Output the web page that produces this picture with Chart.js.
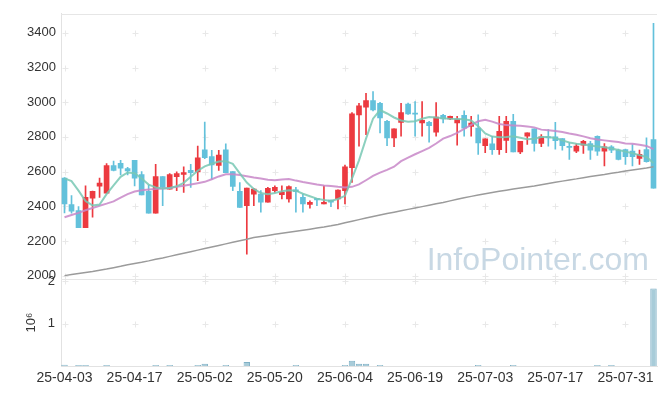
<!DOCTYPE html>
<html lang="ko">
<head>
<meta charset="UTF-8">
<title>Candlestick chart</title>
<script src="https://cdn.jsdelivr.net/npm/chart.js"></script>
<style>
    html, body { margin: 0; padding: 0; background: #fff; }
    #chart { display: block; }
</style>
</head>
<body>
<canvas id="chart" width="665" height="396"></canvas>
<script>
// trading days
const dates = [
    '25-04-03','25-04-04','25-04-07','25-04-08','25-04-09','25-04-10','25-04-11','25-04-14','25-04-15','25-04-16',
    '25-04-17','25-04-18','25-04-21','25-04-22','25-04-23','25-04-24','25-04-25','25-04-28','25-04-29','25-04-30',
    '25-05-02','25-05-07','25-05-08','25-05-09','25-05-12','25-05-13','25-05-14','25-05-15','25-05-16','25-05-19',
    '25-05-20','25-05-21','25-05-22','25-05-23','25-05-26','25-05-27','25-05-28','25-05-29','25-05-30','25-06-02',
    '25-06-04','25-06-05','25-06-09','25-06-10','25-06-11','25-06-12','25-06-13','25-06-16','25-06-17','25-06-18',
    '25-06-19','25-06-20','25-06-23','25-06-24','25-06-25','25-06-26','25-06-27','25-06-30','25-07-01','25-07-02',
    '25-07-03','25-07-04','25-07-07','25-07-08','25-07-09','25-07-10','25-07-11','25-07-14','25-07-15','25-07-16',
    '25-07-17','25-07-18','25-07-21','25-07-22','25-07-23','25-07-24','25-07-25','25-07-28','25-07-29','25-07-30',
    '25-07-31','25-08-01','25-08-04','25-08-05','25-08-06'
];

const opens = [
    2562,2410,2375,2276,2447,2516,2476,2634,2647,2617,
    2665,2583,2486,2360,2571,2499,2571,2583,2607,2598,
    2726,2686,2636,2726,2600,2486,2404,2470,2470,2423,
    2490,2467,2442,2495,2451,2410,2446,2413,2436,2442,
    2490,2623,2927,2971,3010,2994,2890,2794,2884,2989,
    2936,2880,2884,2827,2924,2904,2880,2924,2861,2851,
    2750,2760,2727,2780,2890,2714,2804,2846,2762,2800,
    2800,2790,2743,2718,2752,2762,2804,2718,2743,2724,
    2727,2718,2676,2727,2785
];
const highs = [
    2565,2461,2398,2518,2488,2562,2646,2661,2665,2625,
    2665,2600,2522,2642,2571,2589,2598,2627,2642,2747,
    2886,2722,2722,2760,2600,2537,2505,2503,2490,2509,
    2518,2518,2518,2509,2470,2432,2446,2518,2436,2495,
    2638,2940,2994,3051,3061,3000,2895,2846,2994,2995,
    3004,3004,2890,2998,2930,2920,2918,2950,2918,2927,
    2789,2804,2918,2918,2930,2775,2823,2846,2813,2842,
    2884,2790,2766,2760,2780,2775,2806,2762,2750,2730,
    2730,2756,2724,2794,3455
];
const lows = [
    2362,2360,2276,2276,2337,2451,2476,2604,2581,2581,
    2518,2466,2360,2360,2404,2499,2490,2480,2509,2547,
    2675,2556,2607,2594,2490,2394,2124,2404,2366,2423,
    2480,2442,2423,2366,2366,2389,2404,2413,2398,2385,
    2413,2537,2747,2813,2950,2823,2750,2743,2804,2930,
    2804,2804,2770,2804,2880,2900,2752,2804,2804,2699,
    2709,2699,2699,2709,2714,2703,2756,2718,2743,2747,
    2730,2724,2670,2709,2705,2670,2693,2633,2709,2668,
    2642,2633,2642,2655,2505
];
const closes = [
    2413,2371,2276,2451,2486,2533,2634,2607,2619,2604,
    2562,2466,2360,2571,2509,2583,2589,2594,2594,2680,
    2680,2638,2695,2594,2514,2394,2505,2499,2423,2503,
    2509,2480,2514,2484,2413,2423,2436,2423,2423,2493,
    2627,2933,2979,3010,2956,2909,2794,2846,2941,2933,
    2931,2896,2865,2915,2904,2918,2903,2851,2880,2766,
    2789,2727,2832,2890,2714,2775,2823,2762,2800,2794,
    2779,2750,2740,2747,2775,2724,2718,2743,2724,2670,
    2686,2686,2699,2657,2505
];

// moving averages
const ma5 = [
    2561,2545,2490,2430,2405,2410,2470,2520,2570,2595,
    2590,2560,2525,2509,2503,2505,2515,2535,2570,2605,
    2630,2645,2658,2660,2645,2590,2537,2500,2476,2470,
    2476,2486,2492,2490,2472,2458,2444,2436,2430,2442,
    2460,2560,2665,2790,2905,2955,2935,2912,2895,2888,
    2890,2905,2915,2912,2908,2904,2903,2902,2895,2862,
    2820,2802,2798,2800,2804,2795,2786,2790,2800,2800,
    2794,2780,2768,2760,2756,2750,2745,2740,2733,2725,
    2715,2706,2695,2684,2650
];
const ma20 = [
    2337,2350,2362,2377,2390,2403,2415,2428,2450,2470,
    2485,2492,2497,2499,2502,2506,2512,2518,2525,2533,
    2541,2556,2572,2584,2585,2580,2573,2566,2560,2553,
    2550,2555,2557,2548,2540,2533,2526,2520,2517,2512,
    2508,2512,2526,2550,2575,2594,2610,2628,2660,2680,
    2700,2718,2737,2762,2790,2805,2823,2846,2870,2890,
    2899,2888,2875,2868,2866,2864,2860,2855,2842,2838,
    2834,2828,2820,2813,2803,2792,2785,2780,2775,2770,
    2762,2760,2755,2748,2730
];
const ma120 = [
    2000,2006,2012,2018,2024,2031,2038,2046,2054,2063,
    2070,2077,2085,2094,2102,2111,2120,2129,2138,2147,
    2156,2165,2174,2183,2192,2201,2210,2220,2226,2232,
    2238,2244,2250,2256,2262,2268,2274,2280,2287,2295,
    2305,2314,2323,2332,2341,2350,2358,2366,2374,2382,
    2390,2398,2406,2414,2422,2431,2440,2449,2457,2465,
    2472,2479,2486,2493,2499,2505,2511,2517,2524,2531,
    2538,2545,2552,2558,2565,2571,2577,2583,2590,2596,
    2603,2609,2615,2621,2628
];

const volumes = [
    35000,1000,30000,30000,1000,1000,30000,1000,1000,1000,
    1000,1000,1000,30000,1000,30000,1000,1000,1000,30000,
    60000,1000,1000,30000,1000,1000,100000,1000,1000,1000,
    1000,1000,1000,30000,1000,1000,1000,1000,1000,1000,
    30000,130000,60000,60000,1000,30000,1000,1000,1000,1000,
    1000,1000,1000,1000,1000,1000,1000,1000,1000,30000,
    1000,1000,1000,1000,30000,1000,1000,1000,1000,1000,
    1000,1000,1000,1000,1000,1000,30000,1000,30000,1000,
    1000,1000,1000,1000,1830000
];

const priceTicks = [2000, 2200, 2400, 2600, 2800, 3000, 3200, 3400];
const volumeTicks = [1000000, 2000000];

const upColor = '#ec3a40';
const downColor = '#63c1db';
const candleColors = closes.map((c, i) => c >= opens[i] ? upColor : downColor);

const tickFont = { family: '"Liberation Sans", Arial, sans-serif', size: 13 };

// watermark, grid crosses and panel lines
const decor = {
    id: 'decor',
    beforeDatasetsDraw(chart) {
        const { ctx, chartArea: a, scales: { x, y, yv } } = chart;
        ctx.save();
        ctx.font = '32px "Liberation Sans", Arial, sans-serif';
        ctx.fillStyle = '#c8d8e4';
        ctx.textAlign = 'right';
        ctx.textBaseline = 'alphabetic';
        ctx.fillText('InfoPointer.com', a.right - 8, y.bottom - 9);

        ctx.strokeStyle = '#e8e8e8';
        ctx.lineWidth = 1;
        const ys = priceTicks.map(v => y.getPixelForValue(v))
            .concat(volumeTicks.map(v => yv.getPixelForValue(v)));
        for (let i = 0; i < dates.length; i += 10) {
            const px = Math.round(x.getPixelForValue(i)) + 0.5;
            ys.forEach(p => {
                const py = Math.round(p) + 0.5;
                ctx.beginPath();
                ctx.moveTo(px - 3, py); ctx.lineTo(px + 3, py);
                ctx.moveTo(px, py - 3); ctx.lineTo(px, py + 3);
                ctx.stroke();
            });
        }

        ctx.strokeStyle = '#e6e6e6';
        ctx.beginPath();
        ctx.moveTo(a.left, Math.round(a.top) + 0.5);
        ctx.lineTo(a.right, Math.round(a.top) + 0.5);
        ctx.moveTo(a.left, Math.round(y.bottom) + 0.5);
        ctx.lineTo(a.right, Math.round(y.bottom) + 0.5);
        ctx.stroke();
        ctx.restore();
    }
};

new Chart(document.getElementById('chart'), {
    type: 'bar',
    data: {
        labels: dates,
        datasets: [
            {
                type: 'line', label: 'MA5', data: ma5, yAxisID: 'y',
                borderColor: 'rgba(120,200,180,0.85)', borderWidth: 2,
                pointRadius: 0, tension: 0, order: 0
            },
            {
                type: 'line', label: 'MA20', data: ma20, yAxisID: 'y',
                borderColor: 'rgba(200,135,200,0.85)', borderWidth: 2,
                pointRadius: 0, tension: 0, order: 0
            },
            {
                type: 'line', label: 'MA120', data: ma120, yAxisID: 'y',
                borderColor: '#9b9b9b', borderWidth: 1.5,
                pointRadius: 0, tension: 0, order: 0
            },
            {
                label: 'body', yAxisID: 'y',
                data: opens.map((o, i) => [o, closes[i]]),
                backgroundColor: candleColors, borderColor: candleColors,
                borderWidth: 0, barThickness: 5, minBarLength: 1,
                grouped: false, order: 1
            },
            {
                label: 'wick', yAxisID: 'y',
                data: lows.map((l, i) => [l, highs[i]]),
                backgroundColor: candleColors, borderWidth: 0,
                barThickness: 1, grouped: false, order: 2
            },
            {
                label: 'volume', yAxisID: 'yv', data: volumes,
                backgroundColor: '#a8ccd9', borderColor: '#7fb0c5',
                borderWidth: ctx => (volumes[ctx.dataIndex] > 10000 ? 1 : 0),
                barPercentage: 1, categoryPercentage: 0.92,
                grouped: false, order: 3
            }
        ]
    },
    options: {
        responsive: false,
        animation: false,
        layout: { padding: { top: 10, right: 8, bottom: 5, left: 0 } },
        plugins: { legend: { display: false }, tooltip: { enabled: false } },
        scales: {
            x: {
                grid: { display: false, drawTicks: false },
                border: { color: '#e2e2e2' },
                ticks: {
                    autoSkip: false, maxRotation: 0, padding: 4,
                    font: { family: tickFont.family, size: 14 }, color: '#333',
                    callback: (v, i) => i % 10 === 0 ? dates[i] : ''
                }
            },
            // left boxes are laid out in reverse, so the volume scale comes first
            yv: {
                position: 'left', stack: 'panels', stackWeight: 88,
                min: 0, max: 2050000,
                afterBuildTicks: s => { s.ticks = volumeTicks.map(v => ({ value: v })); },
                afterFit: s => { s.width = 61; },
                grid: { display: false, drawTicks: false },
                border: { color: '#e2e2e2' },
                title: { display: true, text: '10⁶', font: tickFont, color: '#333', padding: { top: 24, bottom: 0 } },
                ticks: { padding: 6, font: tickFont, color: '#333', callback: v => String(v / 1000000) }
            },
            y: {
                position: 'left', stack: 'panels', stackWeight: 268,
                min: 1980, max: 3510,
                afterBuildTicks: s => { s.ticks = priceTicks.map(v => ({ value: v })); },
                afterFit: s => { s.width = 61; },
                grid: { display: false, drawTicks: false },
                border: { color: '#e2e2e2' },
                ticks: { padding: 5, font: tickFont, color: '#333', callback: v => String(v) }
            }
        }
    },
    plugins: [decor]
});
</script>
</body>
</html>
